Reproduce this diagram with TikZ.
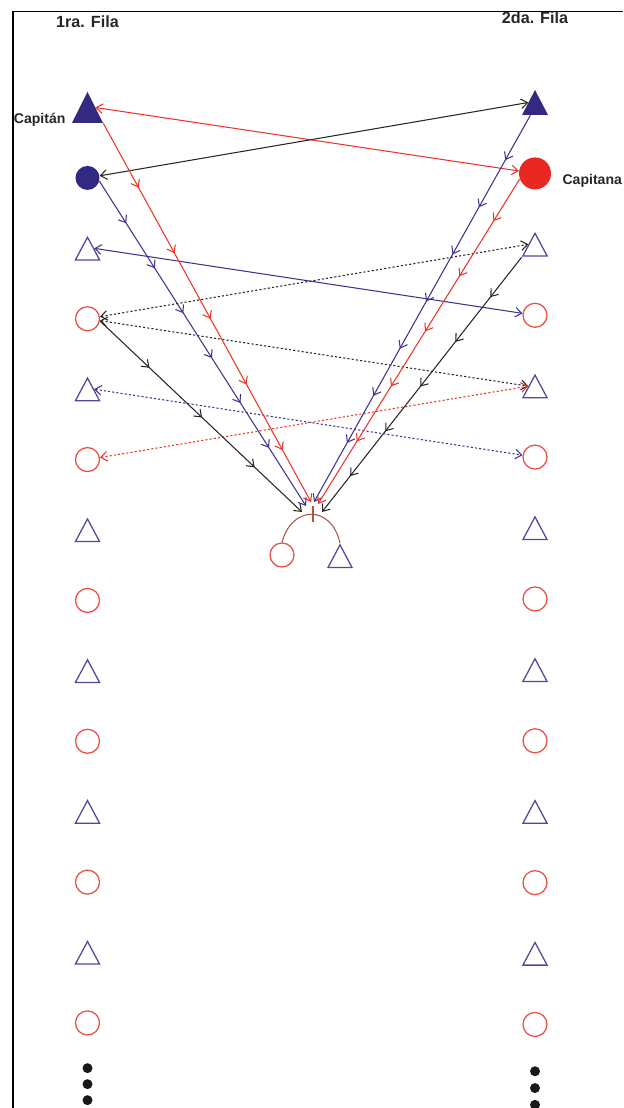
\documentclass[tikz,border=0pt]{standalone}
\usepackage{fontspec}
\setmainfont{Liberation Sans}
\usepackage{xcolor}
\usetikzlibrary{arrows.meta, positioning, calc, decorations.markings}

\definecolor{navy}{RGB}{50,42,130}
\definecolor{navyline}{RGB}{62,52,140}
\definecolor{navyedge}{RGB}{80,74,150}
\definecolor{redball}{RGB}{234,40,34}
\definecolor{redline}{RGB}{236,52,40}
\definecolor{rededge}{RGB}{232,80,70}
\definecolor{darkline}{RGB}{38,38,38}
\definecolor{arcbrown}{RGB}{168,86,72}

\begin{document}
\begin{tikzpicture}[
    x=0.025cm, y=-0.025cm,
    node distance=1.76cm, on grid,
    >={Straight Barb[length=1.6mm, width=2.4mm]},
    tri/.style={rectangle, minimum width=0.65cm, minimum height=0.625cm, inner sep=0pt,
      path picture={\draw[navyedge, line width=0.9pt]
        ([shift={(0.65pt,0.65pt)}]path picture bounding box.south west) --
        ([shift={(0pt,-1pt)}]path picture bounding box.north) --
        ([shift={(-0.65pt,0.65pt)}]path picture bounding box.south east) -- cycle;}},
    trifill/.style={rectangle, minimum width=0.65cm, minimum height=0.625cm, inner sep=0pt,
      path picture={\fill[navy]
        (path picture bounding box.south west) -- (path picture bounding box.north) --
        (path picture bounding box.south east) -- cycle;}},
    ring/.style={circle, draw=rededge, line width=0.9pt, minimum size=0.6cm, inner sep=0pt},
    ball/.style={circle, fill=#1, minimum size=0.6cm, inner sep=0pt},
    ellip/.style={circle, fill=black!90, minimum size=0.25cm, inner sep=0pt},
    title/.style={font=\fontsize{11.5}{14}\selectfont\bfseries, text=black!85, inner sep=0pt},
    lbl/.style={font=\fontsize{10}{12}\selectfont\bfseries, text=black!85, inner sep=0pt},
    link/.style={<->, line width=0.75pt},
    dotlink/.style={<->, line width=0.75pt, dash pattern=on 1.5pt off 1.5pt},
    flow/.style 2 args={->, line width=0.75pt, postaction={decorate},
      decoration={markings, mark=between positions #1 and 0.92 step #2 with {\arrow{>}}}},
    arcline/.style={draw=arcbrown, line width=0.75pt}
]
\useasboundingbox (0,0) rectangle (623,1108);
\draw[line width=0.9pt] (13,1108) -- (13,11.5) -- (623,11.5);

% Fila 1
\node[trifill, minimum width=0.775cm, minimum height=0.775cm] (l1) at (87.5,107.5) {};
\node[ball=navy, below=of l1] (l2) {};
\node[tri, below=of l2] (l3) {};
\node[ring, below=of l3] (l4) {};
\node[tri, below=of l4] (l5) {};
\node[ring, below=of l5] (l6) {};
\node[tri, below=of l6] (l7) {};
\node[ring, below=of l7] (l8) {};
\node[tri, below=of l8] (l9) {};
\node[ring, below=of l9] (l10) {};
\node[tri, below=of l10] (l11) {};
\node[ring, below=of l11] (l12) {};
\node[tri, below=of l12] (l13) {};
\node[ring, below=of l13] (l14) {};
\node[ellip, below=1.13cm of l14] (vdl1) {};
\node[ellip, below=0.4cm of vdl1] (vdl2) {};
\node[ellip, below=0.4cm of vdl2] (vdl3) {};

% Fila 2
\begin{scope}[node distance=1.7725cm]
\node[trifill] (r1) at (535,102.5) {};
\node[ball=redball, minimum size=0.8cm, below=of r1] (r2) {};
\node[tri, below=of r2] (r3) {};
\node[ring, below=of r3] (r4) {};
\node[tri, below=of r4] (r5) {};
\node[ring, below=of r5] (r6) {};
\node[tri, below=of r6] (r7) {};
\node[ring, below=of r7] (r8) {};
\node[tri, below=of r8] (r9) {};
\node[ring, below=of r9] (r10) {};
\node[tri, below=of r10] (r11) {};
\node[ring, below=of r11] (r12) {};
\node[tri, below=of r12] (r13) {};
\node[ring, below=of r13] (r14) {};
\node[ellip, below=1.17cm of r14] (vdr1) {};
\node[ellip, below=0.42cm of vdr1] (vdr2) {};
\node[ellip, below=0.42cm of vdr2] (vdr3) {};
\end{scope}

% Labels
\node[title, above=2.15cm of l1] (fila1) {1ra. Fila};
\node[title, above=2.1125cm of r1] (fila2) {2da. Fila};
\node[lbl, anchor=base east] (capitan) at ([xshift=-0.15cm]l1.south west) {Capitán};
\node[lbl, anchor=base west] (capitana) at ([shift={(0.275cm,-0.28cm)}]r2.east) {Capitana};

% Meeting point
\coordinate (apex) at (313,514);
\coordinate (inBkL) at (302,512);
\coordinate (inBlL) at (306,506);
\coordinate (inRdL) at (311,502);
\coordinate (inBlR) at (314,502);
\coordinate (inRdR) at (318,504);
\coordinate (inBkR) at (322,512);
\node[ring] (ringC) at (282,555) {};
\node[tri] (triC) at (340,556) {};
\draw[arcline] (ringC.north) .. controls +(10,-38) and +(-8,-38) .. (triC.north);
\draw[arcline] (apex) ++(0,-8) -- ++(0,16);

% Arrows - crossing passes
\draw[link, redline] ($(l1.north)!.5!(l1.south east)$) -- (r2);
\draw[link, darkline] (l2) -- ($(r1.north)!.5!(r1.south west)$);
\draw[link, navyline] ($(l3.north)!.5!(l3.south east)$) -- (r4);
\draw[dotlink, darkline] (l4) -- ($(r3.north)!.5!(r3.south west)$);
\draw[dotlink, darkline] (l4) -- ($(r5.north)!.5!(r5.south west)$);
\draw[dotlink, navyline] ($(l5.north)!.5!(l5.south east)$) -- (r6);
\draw[dotlink, redline] (l6) -- ($(r5.north)!.5!(r5.south west)$);

% Arrows - to the centre
\draw[flow={0.17}{1.87cm}, redline] (l1.south east) -- (inRdL);
\draw[flow={0.13}{1.33cm}, navyline] (l2.-15) -- (inBlL);
\draw[flow={0.245}{1.81cm}, darkline] (l4.-10) -- (inBkL);
\draw[flow={0.116}{1.35cm}, navyline] (r1.250) -- (inBlR);
\draw[flow={0.13}{1.62cm}, redline] (r2.200) -- (inRdR);
\draw[flow={0.157}{1.42cm}, darkline] (r3.south west) -- (inBkR);
\end{tikzpicture}
\end{document}
